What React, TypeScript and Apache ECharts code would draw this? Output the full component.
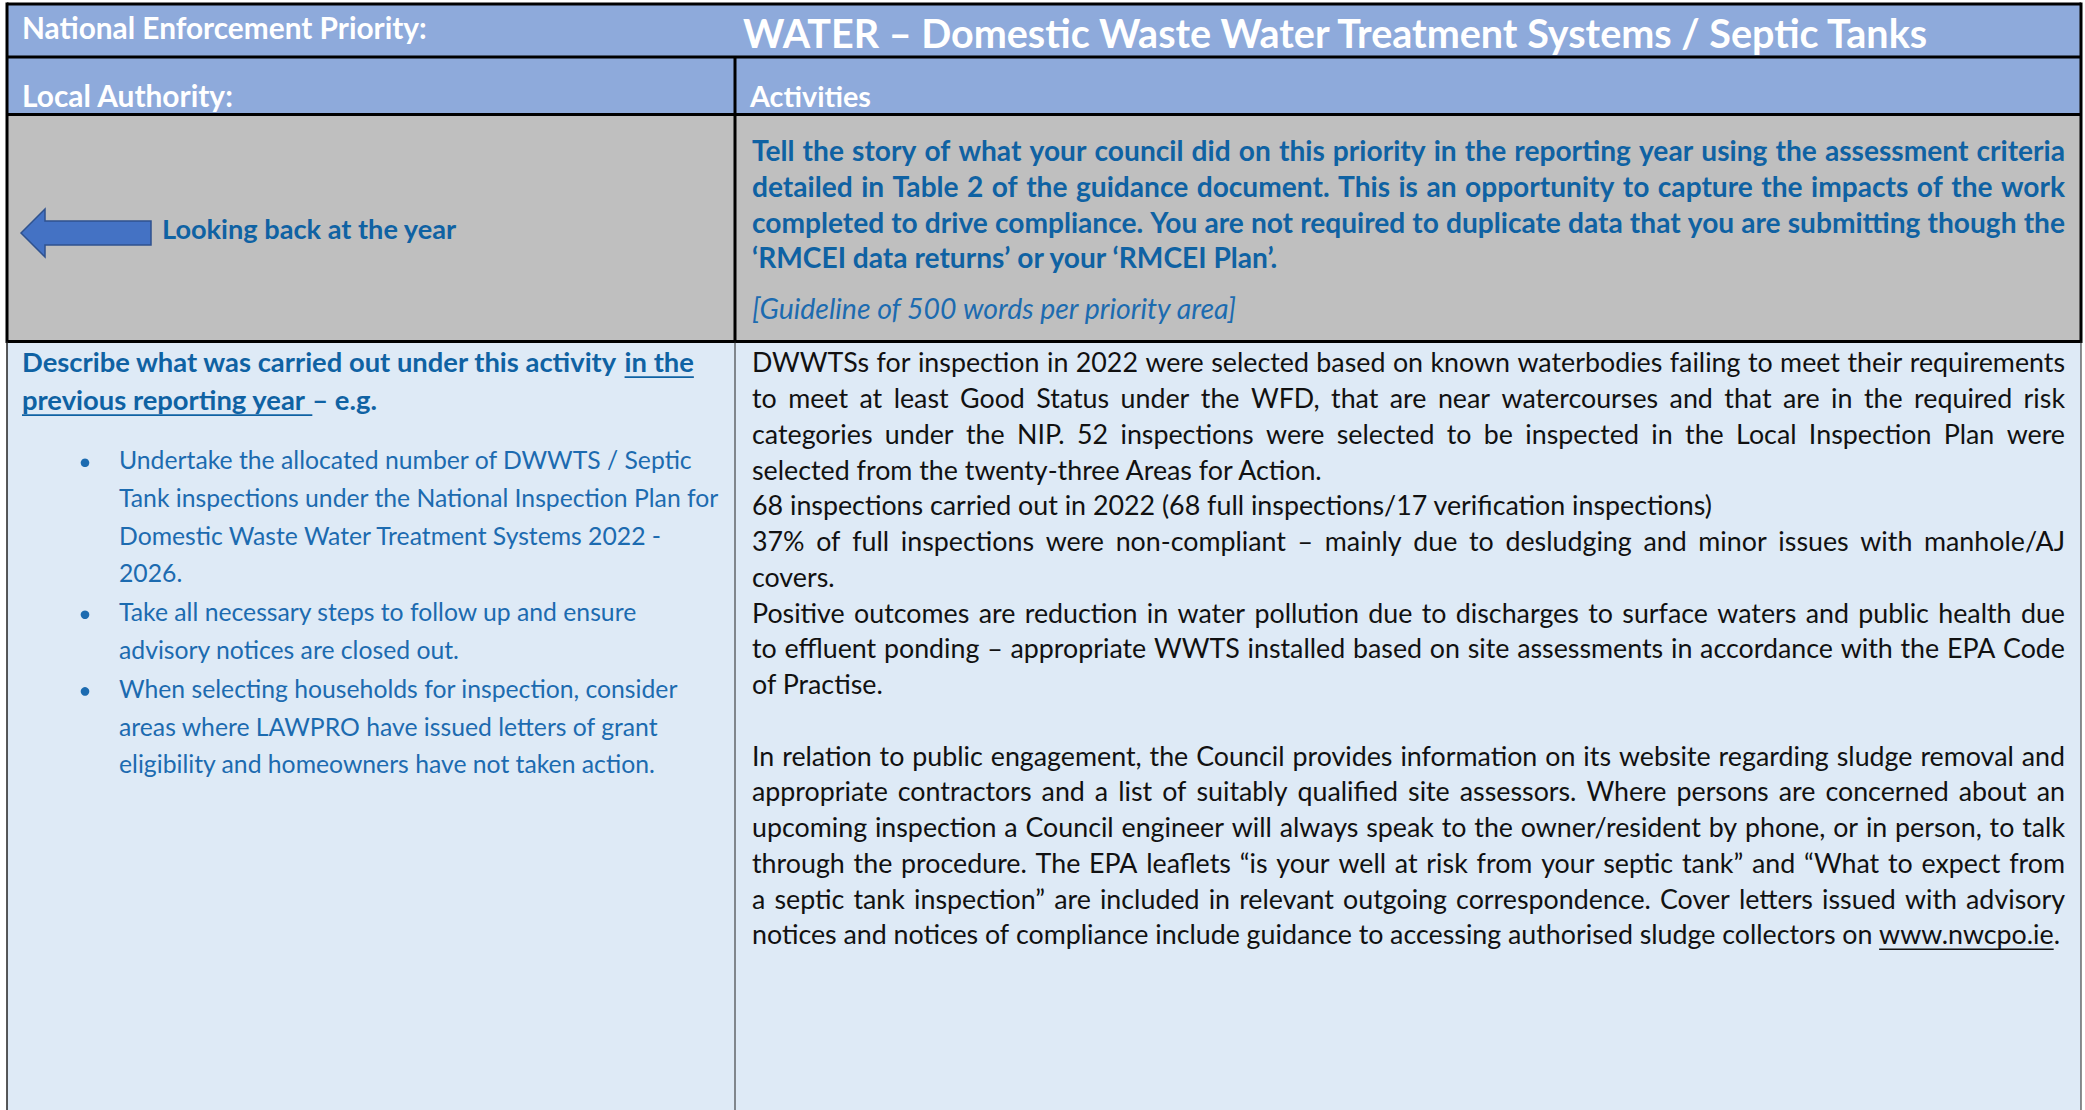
import React, { useEffect, useRef } from "react";
import * as echarts from "echarts";

const FONT = "Lato, 'Noto Sans', sans-serif";

// ---------- content ----------
const priorityLabel = "National Enforcement Priority:";
const priorityValue = "WATER – Domestic Waste Water Treatment Systems / Septic Tanks";
const authorityLabel = "Local Authority:";
const activitiesLabel = "Activities";
const lookBackLabel = "Looking back at the year";

const guidanceLines = [
  "Tell the story of what your council did on this priority in the reporting year using the assessment criteria",
  "detailed in Table 2 of the guidance document. This is an opportunity to capture the impacts of the work",
  "completed to drive compliance. You are not required to duplicate data that you are submitting though the",
  "‘RMCEI data returns’ or your ‘RMCEI Plan’.",
];
const guidanceJustified = [true, true, true, false];
const guidanceNote = "[Guideline of 500 words per priority area]";

const describeSegments = [
  [
    { text: "Describe what was carried out under this activity ", underline: false },
    { text: "in the", underline: true },
  ],
  [
    { text: "previous reporting year ", underline: true },
    { text: "– e.g.", underline: false },
  ],
];

const bulletItems = [
  [
    "Undertake the allocated number of DWWTS / Septic",
    "Tank inspections under the National Inspection Plan for",
    "Domestic Waste Water Treatment Systems 2022 -",
    "2026.",
  ],
  ["Take all necessary steps to follow up and ensure", "advisory notices are closed out."],
  [
    "When selecting households for inspection, consider",
    "areas where LAWPRO have issued letters of grant",
    "eligibility and homeowners have not taken action.",
  ],
];

const reportLines = [
  "DWWTSs for inspection in 2022 were selected based on known waterbodies failing to meet their requirements",
  "to meet at least Good Status under the WFD, that are near watercourses and that are in the required risk",
  "categories under the NIP. 52 inspections were selected to be inspected in the Local Inspection Plan were",
  "selected from the twenty-three Areas for Action.",
  "68 inspections carried out in 2022 (68 full inspections/17 verification inspections)",
  "37% of full inspections were non-compliant – mainly due to desludging and minor issues with manhole/AJ",
  "covers.",
  "Positive outcomes are reduction in water pollution due to discharges to surface waters and public health due",
  "to effluent ponding – appropriate WWTS installed based on site assessments in accordance with the EPA Code",
  "of Practise.",
  "",
  "In relation to public engagement, the Council provides information on its website regarding sludge removal and",
  "appropriate contractors and a list of suitably qualified site assessors. Where persons are concerned about an",
  "upcoming inspection a Council engineer will always speak to the owner/resident by phone, or in person, to talk",
  "through the procedure. The EPA leaflets “is your well at risk from your septic tank” and “What to expect from",
  "a septic tank inspection” are included in relevant outgoing correspondence. Cover letters issued with advisory",
  "notices and notices of compliance include guidance to accessing authorised sludge collectors on www.nwcpo.ie.",
];
const reportJustified = [true, true, true, false, false, true, false, true, true, false, false, true, true, true, true, true, true];
const linkText = "www.nwcpo.ie";

// ---------- colours ----------
const C_HEADER = "#8EAADB";
const C_GRAY = "#BFBFBF";
const C_BODY = "#DEEAF6";
const C_BLUE_BOLD = "#0F62A3";
const C_BLUE = "#1C6BB0";
const C_TEXT = "#111111";

const K = 0.387; // central-baseline offset (em)

function buildElements() {
  const cvs = document.createElement("canvas");
  const ctx = cvs.getContext("2d")!;
  const measure = (t: string, size: number, weight = "normal", style = "normal") => {
    ctx.font = `${style} ${weight} ${size}px ${FONT}`;
    return ctx.measureText(t).width;
  };
  const fit = (t: string, w: number, weight = "normal", style = "normal") => (100 * w) / measure(t, 100, weight, style);

  const els: any[] = [];
  const txt = (s: string, x: number, base: number, size: number, color: string, weight = "normal", style = "normal") => {
    els.push({
      type: "text",
      silent: true,
      x,
      y: base - K * size,
      style: {
        text: s,
        fontFamily: FONT,
        fontSize: size,
        fontWeight: weight,
        fontStyle: style,
        fill: color,
        align: "left",
        verticalAlign: "middle",
      },
    });
  };
  const line = (x1: number, y1: number, x2: number, y2: number, w: number, color = "#000") => {
    els.push({ type: "line", silent: true, shape: { x1, y1, x2, y2 }, style: { stroke: color, lineWidth: w } });
  };
  const rect = (x: number, y: number, w: number, h: number, fill: string) => {
    els.push({ type: "rect", silent: true, shape: { x, y, width: w, height: h }, style: { fill } });
  };
  // justified line writer; returns word positions
  const para = (
    s: string, x0: number, width: number, base: number, size: number, color: string,
    justify: boolean, weight = "normal", style = "normal"
  ) => {
    const pos: { w: string; x: number }[] = [];
    if (!s) return pos;
    if (!justify) {
      txt(s, x0, base, size, color, weight, style);
      let x = x0;
      s.split(" ").forEach((w) => {
        pos.push({ w, x });
        x += measure(w + " ", size, weight, style);
      });
      return pos;
    }
    const words = s.split(" ");
    const ws = words.map((w) => measure(w, size, weight, style));
    const sum = ws.reduce((a, b) => a + b, 0);
    const gap = words.length > 1 ? (width - sum) / (words.length - 1) : 0;
    let x = x0;
    words.forEach((w, i) => {
      txt(w, x, base, size, color, weight, style);
      pos.push({ w, x });
      x += ws[i] + gap;
    });
    return pos;
  };

  // layout
  const XL = 7, XM = 735, XR = 2081;
  const Y0 = 4, Y1 = 57, Y2 = 114.5, Y3 = 341.5, YB = 1115;
  const RX = 752, RW = 2065 - 752;

  // backgrounds
  rect(XL, Y0, XR - XL, Y2 - Y0, C_HEADER);
  rect(XL, Y2, XR - XL, Y3 - Y2, C_GRAY);
  rect(XL, Y3, XR - XL, YB - Y3, C_BODY);

  // header texts
  txt(priorityLabel, 22, 39.5, fit(priorityLabel, 405, "bold"), "#FFFFFF", "bold");
  txt(priorityValue, 743, 48, fit(priorityValue, 1188, "bold"), "#FFFFFF", "bold");
  txt(authorityLabel, 22, 107, fit(authorityLabel, 212, "bold"), "#FFFFFF", "bold");
  txt(activitiesLabel, 750, 107, fit(activitiesLabel, 121, "bold"), "#FFFFFF", "bold");

  // arrow + look back label
  els.push({
    type: "polygon",
    silent: true,
    shape: { points: [[21, 233], [45, 209], [45, 221], [151, 221], [151, 245], [45, 245], [45, 257]] },
    style: { fill: "#4472C4", stroke: "#2F528F", lineWidth: 1.5 },
  });
  txt(lookBackLabel, 162, 239, fit(lookBackLabel, 295, "bold"), C_BLUE_BOLD, "bold");

  // guidance (gray row)
  let gSize = fit(guidanceLines[3], 534, "bold");
  const gMax = Math.max(...guidanceLines.map((l) => measure(l, gSize, "bold")));
  if (gMax > RW - 4) gSize *= (RW - 4) / gMax;
  guidanceLines.forEach((l, i) => para(l, RX, RW, 161.3 + i * 35.6, gSize, C_BLUE_BOLD, guidanceJustified[i], "bold"));
  txt(guidanceNote, RX, 319.5, fit(guidanceNote, 486, "normal", "italic"), C_BLUE, "normal", "italic");

  // left description
  const dSize = fit(describeSegments[0].map((s) => s.text).join(""), 672, "bold");
  describeSegments.forEach((segs, i) => {
    const base = 372.2 + i * 38;
    let x = 22;
    segs.forEach((sg) => {
      txt(sg.text, x, base, dSize, C_BLUE_BOLD, "bold");
      const w = measure(sg.text, dSize, "bold");
      if (sg.underline) line(x, base + 5, x + w, base + 5, 1.8, C_BLUE_BOLD);
      x += w;
    });
  });

  // bullets
  const bSize = fit(bulletItems[0][1], 600);
  let base = 469.5;
  bulletItems.forEach((item, bi) => {
    if (bi > 0) base += 1.5;
    item.forEach((l, li) => {
      if (li === 0) {
        els.push({
          type: "circle",
          silent: true,
          shape: { cx: 85, cy: base - 0.27 * bSize, r: 4.3 },
          style: { fill: C_BLUE },
        });
      }
      txt(l, 119, base, bSize, C_BLUE);
      base += 37.6;
    });
  });

  // report body (right column)
  let rSize = fit(reportLines[4], 965);
  const rMax = Math.max(...reportLines.filter((_, i) => reportJustified[i]).map((l) => measure(l, rSize)));
  if (rMax > RW - 4) rSize *= (RW - 4) / rMax;
  reportLines.forEach((l, i) => {
    const b = 372.8 + i * 35.75;
    const last = i === reportLines.length - 1;
    const pos = para(l, RX, last ? 2060 - RX : RW, b, rSize, C_TEXT, reportJustified[i]);
    const hit = pos.find((p) => p.w.startsWith(linkText));
    if (hit) {
      const w = measure(linkText, rSize);
      line(hit.x, b + 4.5, hit.x + w, b + 4.5, 1.5, C_TEXT);
    }
  });

  // borders
  line(XL, Y0, XR, Y0, 3);
  line(XL, Y1, XR, Y1, 3);
  line(XL, Y2, XR, Y2, 3);
  line(XL, Y3, XR, Y3, 3);
  line(XL, Y0 - 1.5, XL, Y3 + 1.5, 3);
  line(XR, Y0 - 1.5, XR, Y3 + 1.5, 3);
  line(XM, Y1, XM, Y3, 3);
  line(XL, Y3, XL, YB, 1.5, "#222");
  line(XM, Y3, XM, YB, 1, "#222");
  line(XR, Y3, XR, YB, 1, "#222");

  return els;
}

export default function App() {
  const ref = useRef<HTMLDivElement>(null);
  useEffect(() => {
    const chart = echarts.init(ref.current!, null, { renderer: "svg" });
    chart.setOption({ animation: false, graphic: { elements: buildElements() } });
    return () => chart.dispose();
  }, []);
  return (
    <div
      ref={ref}
      style={{ position: "fixed", left: 0, top: 0, width: 2085, height: 1110, background: "#FFFFFF" }}
    />
  );
}
